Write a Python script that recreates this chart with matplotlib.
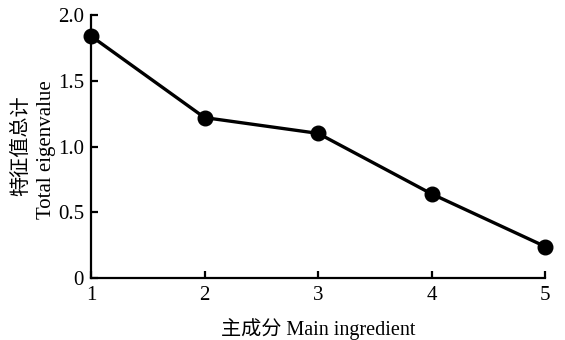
import matplotlib
matplotlib.use("Agg")
import matplotlib.pyplot as plt

components = [1, 2, 3, 4, 5]
eigen_total = [1.84, 1.22, 1.10, 0.64, 0.24]
y_ticks = [0, 0.5, 1.0, 1.5, 2.0]
y_tick_labels = ["0", "0.5", "1.0", "1.5", "2.0"]

plt.rcParams['font.family'] = ['Liberation Serif', 'Noto Sans CJK SC']

W, H = 565, 340
fig = plt.figure(figsize=(5.65, 3.4), dpi=100)
ax = fig.add_axes([0.161, 0.182, 0.804, 0.774])
ax.plot(components, eigen_total, color='black', linewidth=2.4, marker='o',
        markersize=10.5, clip_on=False, zorder=3)
ax.set_xlim(1, 5)
ax.set_ylim(0, 2.0)
ax.set_xticks(components)
ax.set_yticks(y_ticks)
ax.set_yticklabels(y_tick_labels)
for s in ['top', 'right']:
    ax.spines[s].set_visible(False)
for s in ['left', 'bottom']:
    ax.spines[s].set_linewidth(1.6)
ax.tick_params(direction='in', length=5, width=1.6, labelsize=15, colors='black')
ax.tick_params(axis='x', pad=6)
ax.tick_params(axis='y', pad=5)
ax.set_xlabel('主成分 Main ingredient', fontsize=14.5, labelpad=9)
fig.text(22 / W, 1 - 146 / H, '特征值总计', rotation=90, fontsize=14.5,
         ha='center', va='center')
fig.text(47 / W, 1 - 150 / H, 'Total eigenvalue', rotation=90, fontsize=15,
         ha='center', va='center')
fig.savefig('out.png', dpi=100)
